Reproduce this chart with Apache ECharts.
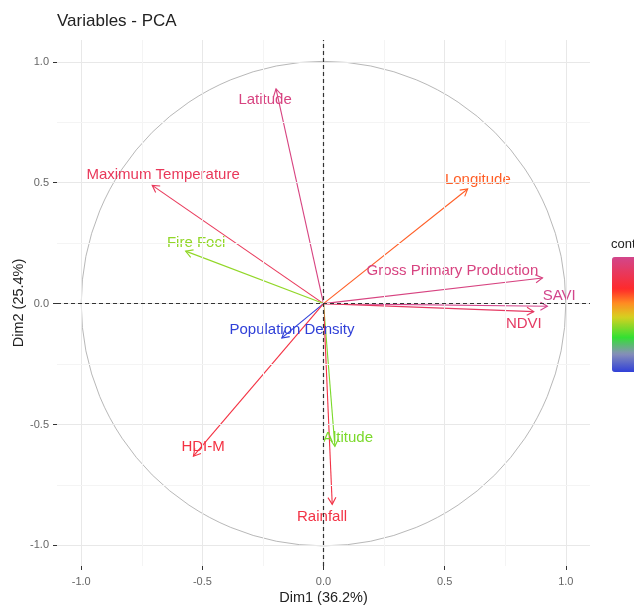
<!DOCTYPE html>
<html><head><meta charset="utf-8">
<script src="https://cdn.jsdelivr.net/npm/echarts@6/dist/echarts.min.js"></script>
<style>html,body{margin:0;padding:0;background:#fff}#chart{width:634px;height:608px}</style>
</head><body><div id="chart"></div>
<script>
const variables = ['Latitude','Maximum Temperature','Fire Foci','Longitude','Gross Primary Production','SAVI','NDVI','Population Density','HDI-M','Altitude','Rainfall'];
const dim1 = [-0.196, -0.707, -0.569, 0.595, 0.904, 0.924, 0.868, -0.172, -0.537, 0.047, 0.036];
const dim2 = [0.888, 0.489, 0.217, 0.474, 0.106, -0.011, -0.033, -0.142, -0.631, -0.590, -0.830];
const contrib = [12.2, 10.9, 5.5, 8.5, 12.2, 12.6, 11.2, 0.7, 10.1, 5.2, 10.2];
const labelX = [-0.241, -0.662, -0.526, 0.637, 0.532, 0.973, 0.827, -0.130, -0.497, 0.101, -0.006];
const labelY = [0.843, 0.531, 0.252, 0.512, 0.134, 0.030, -0.083, -0.110, -0.594, -0.554, -0.880];
const tickValues = [-1, -0.5, 0, 0.5, 1];
const minorBreaks = [-0.75, -0.25, 0.25, 0.75];
const circle = [[0, 0, 1]];

const FONT = 'Liberation Sans, Arial, Helvetica, sans-serif';
const cMin = 0.7, cMax = 12.6;
const stops = [[0,'#3040d8'],[0.16,'#8890b8'],[0.3,'#33e033'],[0.48,'#d8d020'],[0.6,'#ff8a22'],[0.72,'#ff2a2a'],[1,'#d2468c']];
function colorAtT(t){
  t = Math.max(0, Math.min(1, t));
  for (let i = 1; i < stops.length; i++) {
    if (t <= stops[i][0]) {
      const a = stops[i-1], b = stops[i];
      return echarts.color.lerp((t - a[0]) / (b[0] - a[0]), [a[1], b[1]]);
    }
  }
  return stops[stops.length-1][1];
}
function colorOf(v){ return colorAtT((v - cMin) / (cMax - cMin)); }
const vmColors = [];
for (let i = 0; i <= 40; i++) vmColors.push(colorAtT(i / 40));

const arrowData = variables.map((n, i) => ({name: n, value: [dim1[i], dim2[i], contrib[i]]}));
const labelData = variables.map((n, i) => ({name: n, value: [labelX[i], labelY[i], contrib[i]]}));

const majorStyle = {color: '#e8e8e8', width: 1, type: 'solid'};
const minorStyle = {color: '#f4f4f4', width: 1, type: 'solid'};
const gridLines = [];
tickValues.forEach(v => { gridLines.push({xAxis: v, lineStyle: majorStyle}); gridLines.push({yAxis: v, lineStyle: majorStyle}); });
minorBreaks.forEach(v => { gridLines.push({xAxis: v, lineStyle: minorStyle}); gridLines.push({yAxis: v, lineStyle: minorStyle}); });

const chart = echarts.init(document.getElementById('chart'), null, {renderer: 'canvas'});
chart.setOption({
  animation: false,
  backgroundColor: '#fff',
  textStyle: {fontFamily: FONT},
  title: {text: 'Variables - PCA', left: 57, top: 13, padding: 0,
    textStyle: {fontSize: 17, fontWeight: 'normal', color: '#222', fontFamily: FONT}},
  grid: {left: 57, right: 44, top: 40, bottom: 42, containLabel: false, outerBoundsMode: 'none'},
  xAxis: {type: 'value', min: -1.1, max: 1.1,
    axisLine: {show: false, onZero: false}, splitLine: {show: false},
    axisTick: {show: true, customValues: tickValues, length: 4, lineStyle: {color: '#333'}},
    axisLabel: {customValues: tickValues, formatter: v => v.toFixed(1), color: '#666', fontSize: 11, margin: 10, fontFamily: FONT},
    name: 'Dim1 (36.2%)', nameLocation: 'middle', nameGap: 24, nameMoveOverlap: false,
    nameTextStyle: {fontSize: 14.5, color: '#222', fontFamily: FONT}},
  yAxis: {type: 'value', min: -1.085, max: 1.09,
    axisLine: {show: false, onZero: false}, splitLine: {show: false},
    axisTick: {show: true, customValues: tickValues, length: 4, lineStyle: {color: '#333'}},
    axisLabel: {customValues: tickValues, formatter: v => v.toFixed(1), color: '#666', fontSize: 11, margin: 8, fontFamily: FONT},
    name: 'Dim2 (25.4%)', nameLocation: 'middle', nameGap: 31, nameMoveOverlap: false,
    nameTextStyle: {fontSize: 14.5, color: '#222', fontFamily: FONT}},
  visualMap: {type: 'continuous', min: cMin, max: cMax, seriesIndex: 4, dimension: 2,
    inRange: {color: vmColors}, left: 612, top: 257, itemWidth: 26, itemHeight: 115,
    calculable: false, text: null, padding: 0, hoverLink: false},
  graphic: [{type: 'text', x: 611, y: 244, silent: true,
    style: {text: 'contrib', fill: '#222', fontSize: 13, fontFamily: FONT, verticalAlign: 'middle'}}],
  series: [
    {type: 'line', data: [], silent: true,
      markLine: {silent: true, symbol: ['none','none'], label: {show: false}, data: gridLines}},
    {type: 'custom', data: circle, silent: true,
      renderItem: (params, api) => {
        const c = api.coord([api.value(0), api.value(1)]);
        const r = api.size([api.value(2), 0])[0];
        return {type: 'circle', shape: {cx: c[0], cy: c[1], r: r},
          style: {fill: 'none', stroke: '#b8b8b8', lineWidth: 1}};
      }},
    {type: 'line', data: [], silent: true,
      markLine: {silent: true, symbol: ['none','none'], label: {show: false},
        lineStyle: {color: '#333', width: 1.2, type: [4, 3]},
        data: [{xAxis: 0}, {yAxis: 0}]}},
    {type: 'custom', data: arrowData, silent: true,
      renderItem: (params, api) => {
        const p0 = api.coord([0, 0]);
        const p1 = api.coord([api.value(0), api.value(1)]);
        const col = colorOf(api.value(2));
        const ang = Math.atan2(p1[1] - p0[1], p1[0] - p0[0]);
        const L = 8, A = Math.PI / 6;
        const h1 = [p1[0] - L * Math.cos(ang - A), p1[1] - L * Math.sin(ang - A)];
        const h2 = [p1[0] - L * Math.cos(ang + A), p1[1] - L * Math.sin(ang + A)];
        return {type: 'group', children: [
          {type: 'line', shape: {x1: p0[0], y1: p0[1], x2: p1[0], y2: p1[1]}, style: {stroke: col, lineWidth: 1.1}},
          {type: 'polyline', shape: {points: [h1, p1, h2]}, style: {stroke: col, fill: 'none', lineWidth: 1.1}}
        ]};
      }},
    {type: 'custom', data: labelData, silent: true,
      renderItem: (params, api) => {
        const p = api.coord([api.value(0), api.value(1)]);
        return {type: 'text', x: p[0], y: p[1],
          style: {text: variables[params.dataIndex], fill: colorOf(api.value(2)), fontSize: 15, fontFamily: FONT,
            align: 'center', verticalAlign: 'middle'}};
      }}
  ]
});
</script></body></html>
